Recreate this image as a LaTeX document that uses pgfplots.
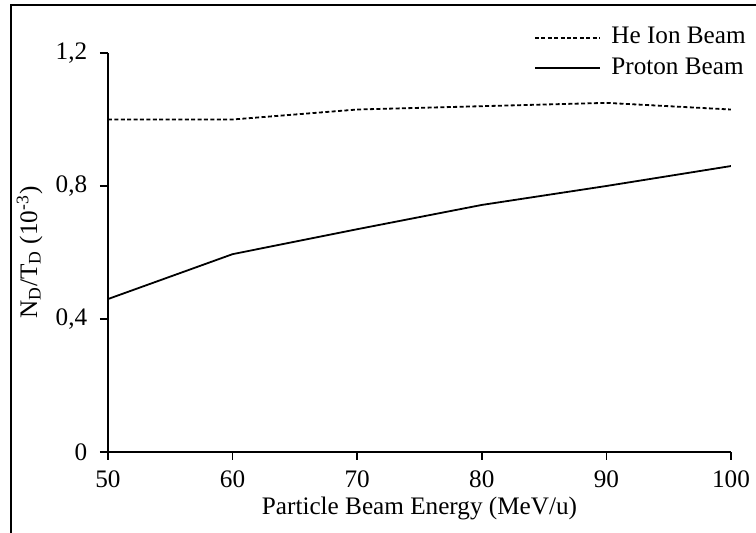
\documentclass[border=0pt]{standalone}
\usepackage{fontspec}
\setmainfont{Liberation Serif}
\usepackage{pgfplots}
\pgfplotsset{compat=1.18}

\begin{document}
\fontsize{12.6}{15}\selectfont
\begin{tikzpicture}
    \begin{axis}
    [
        name=ax,
        scale only axis,
        width=311.5pt,
        height=199.5pt,
        xmin=50, xmax=100,
        ymin=0, ymax=1.2,
        axis x line*=bottom,
        axis y line*=left,
        axis line style={line width=0.9pt},
        xtick={50,60,...,100},
        ytick={0,0.4,0.8,1.2},
        yticklabels={0,{0,4},{0,8},{1,2}},
        /pgf/number format/assume math mode=true,
        tick align=outside,
        major tick length=4pt,
        tick style={line width=0.8pt, black},
        ticklabel style={font=\fontsize{12.6}{15}\selectfont},
        yticklabel style={xshift=-2pt},
        xticklabel style={yshift=-1pt},
        xlabel={Particle Beam Energy (MeV/u)},
        ylabel={N\textsubscript{D}/T\textsubscript{D} (10\textsuperscript{-3})},
        xlabel style={yshift=4pt},
        ylabel style={yshift=-2pt},
        legend style={at={(1.05,1.085)}, anchor=north east, draw=none, fill=none,
            font=\fontsize{12.6}{15}\selectfont, row sep=1pt},
        legend cell align=left,
        legend image code/.code={\draw[#1] (0cm,0cm) -- (1.15cm,0cm);},
        legend style={nodes={inner xsep=5pt}},
    ]
    \addplot[black, line width=0.9pt, dash pattern=on 2pt off 1.2pt] coordinates {
        (50, 1.00)
        (60, 1.00)
        (70, 1.03)
        (80, 1.04)
        (90, 1.05)
        (100, 1.03)
    };
    \addlegendentry{He Ion Beam}
    \addplot[black, line width=0.9pt] coordinates {
        (50, 0.46)
        (60, 0.595)
        (70, 0.67)
        (80, 0.743)
        (90, 0.80)
        (100, 0.86)
    };
    \addlegendentry{Proton Beam}
    \end{axis}
    % chart frame, cut at right and bottom as in the source
    \draw[line width=0.9pt] ([xshift=-48.5pt,yshift=-40.5pt]ax.south west) -- ([xshift=-48.5pt,yshift=223.5pt]ax.south west) -- ([xshift=324pt,yshift=223.5pt]ax.south west);
    \pgfresetboundingbox
    \useasboundingbox ([xshift=-54pt,yshift=-40.5pt]ax.south west) rectangle ([xshift=324pt,yshift=226pt]ax.south west);
\end{tikzpicture}
\end{document}
